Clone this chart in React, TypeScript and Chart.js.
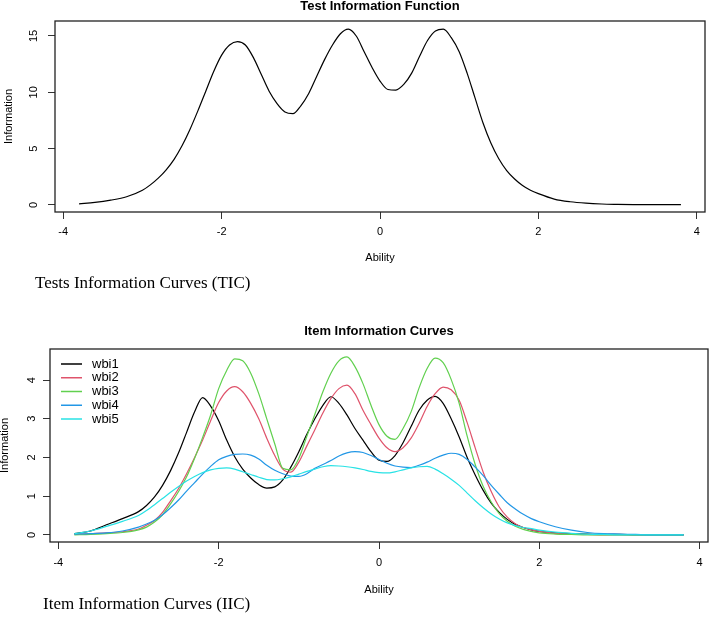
import React, { useEffect, useRef } from 'react';
import { Chart, registerables } from 'chart.js';

Chart.register(...registerables);

// ---------- data (ability grid and information values) ----------
const theta = [
  -3.8, -3.6, -3.4, -3.2,
  -3.0, -2.9, -2.8, -2.7, -2.6, -2.5, -2.4, -2.3, -2.2, -2.1,
  -2.0, -1.9, -1.8, -1.7, -1.6, -1.5, -1.4, -1.3, -1.2, -1.1,
  -1.0, -0.9, -0.8, -0.7, -0.6, -0.5, -0.4, -0.3, -0.2, -0.1,
  0.0, 0.1, 0.2, 0.3, 0.4, 0.5, 0.6, 0.7, 0.8, 0.9,
  1.0, 1.1, 1.2, 1.3, 1.4, 1.5, 1.6, 1.7, 1.8, 1.9,
  2.0,
  2.2, 2.4, 2.6, 2.8, 3.0, 3.2, 3.4, 3.6, 3.8,
];

const tifValues = [
  0.10, 0.22, 0.42, 0.72,
  1.30, 1.78, 2.38, 3.12, 4.05, 5.25, 6.70, 8.35, 10.1, 11.85,
  13.3, 14.2, 14.5, 14.2, 13.1, 11.6, 10.1, 9.0, 8.25, 8.1,
  8.8, 9.9, 11.4, 12.9, 14.2, 15.2, 15.6, 15.0, 13.6, 12.2,
  11.0, 10.25, 10.2, 10.7, 11.7, 13.2, 14.6, 15.45, 15.6, 14.85,
  13.6, 11.7, 9.5, 7.3, 5.5, 4.1, 3.05, 2.3, 1.72, 1.3,
  1.0,
  0.52, 0.28, 0.15, 0.08, 0.05, 0.03, 0.02, 0.02, 0.02,
];

const wbi1 = [
  0.03, 0.10, 0.26, 0.42,
  0.60, 0.76, 0.98, 1.28, 1.66, 2.12, 2.65, 3.18, 3.55, 3.33,
  2.95, 2.45, 2.02, 1.70, 1.47, 1.30, 1.21, 1.24, 1.42, 1.75,
  2.15, 2.60, 3.00, 3.35, 3.57, 3.40, 3.10, 2.75, 2.45, 2.15,
  1.93, 1.90, 2.05, 2.38, 2.80, 3.22, 3.48, 3.58, 3.40, 3.00,
  2.53, 2.00, 1.55, 1.15, 0.82, 0.58, 0.40, 0.27, 0.19, 0.13,
  0.09,
  0.05, 0.03, 0.02, 0.01, 0.01, 0.0, 0.0, 0.0, 0.0,
];
const wbi2 = [
  0.01, 0.03, 0.05, 0.08,
  0.15, 0.25, 0.37, 0.58, 0.88, 1.20, 1.58, 2.00, 2.45, 2.95,
  3.42, 3.72, 3.83, 3.70, 3.40, 3.00, 2.50, 2.05, 1.70, 1.62,
  1.88, 2.30, 2.72, 3.15, 3.52, 3.78, 3.87, 3.65, 3.22, 2.85,
  2.50, 2.25, 2.15, 2.25, 2.50, 2.88, 3.32, 3.65, 3.82, 3.75,
  3.48, 2.90, 2.25, 1.62, 1.12, 0.72, 0.46, 0.29, 0.19, 0.13,
  0.09,
  0.04, 0.02, 0.01, 0.0, 0.0, 0.0, 0.0, 0.0, 0.0,
];
const wbi3 = [
  0.0, 0.01, 0.03, 0.06,
  0.13, 0.20, 0.33, 0.52, 0.80, 1.12, 1.50, 1.98, 2.52, 3.10,
  3.78, 4.25, 4.55, 4.50, 4.18, 3.65, 3.00, 2.35, 1.72, 1.68,
  1.98, 2.55, 3.12, 3.70, 4.18, 4.50, 4.60, 4.35, 3.91, 3.35,
  2.85, 2.55, 2.47, 2.75, 3.18, 3.80, 4.30, 4.57, 4.45, 4.02,
  3.40, 2.55, 1.82, 1.25, 0.85, 0.55, 0.35, 0.22, 0.14, 0.09,
  0.05,
  0.02, 0.01, 0.0, 0.0, 0.0, 0.0, 0.0, 0.0, 0.0,
];
const wbi4 = [
  0.02, 0.03, 0.05, 0.10,
  0.20, 0.28, 0.38, 0.52, 0.70, 0.90, 1.13, 1.35, 1.57, 1.77,
  1.94, 2.03, 2.08, 2.09, 2.06, 1.96, 1.80, 1.67, 1.58, 1.52,
  1.51, 1.58, 1.72, 1.82, 1.92, 2.04, 2.12, 2.15, 2.13, 2.05,
  1.95, 1.85, 1.78, 1.75, 1.74, 1.80, 1.88, 1.98, 2.06, 2.11,
  2.08, 1.95, 1.75, 1.53, 1.28, 1.05, 0.83, 0.67, 0.53, 0.42,
  0.34,
  0.21, 0.12, 0.06, 0.03, 0.02, 0.01, 0.0, 0.0, 0.0,
];
const wbi5 = [
  0.03, 0.10, 0.22, 0.35,
  0.50, 0.63, 0.78, 0.94, 1.10, 1.25, 1.39, 1.51, 1.61, 1.68,
  1.72, 1.73, 1.70, 1.63, 1.56, 1.49, 1.43, 1.42, 1.45, 1.50,
  1.57, 1.64, 1.70, 1.76, 1.79, 1.78, 1.76, 1.73, 1.69, 1.64,
  1.61, 1.60, 1.63, 1.68, 1.73, 1.76, 1.77, 1.70, 1.58, 1.44,
  1.28, 1.08, 0.88, 0.70, 0.54, 0.41, 0.31, 0.24, 0.19, 0.16,
  0.12,
  0.07, 0.04, 0.02, 0.01, 0.0, 0.0, 0.0, 0.0, 0.0,
];

const itemNames = ['wbi1', 'wbi2', 'wbi3', 'wbi4', 'wbi5'];
const itemSeries = [wbi1, wbi2, wbi3, wbi4, wbi5];
const itemColors = ['#000000', '#DF536B', '#61D04F', '#2297E6', '#28E2E5'];

const xTickValues = [-4, -2, 0, 2, 4];
const tifYTicks = [0, 5, 10, 15];
const iicYTicks = [0, 1, 2, 3, 4];

const SANS = '"Liberation Sans", Arial, Helvetica, sans-serif';
const SERIF = '"Liberation Serif", "Times New Roman", Times, serif';

// ---------- plugin: R-style box, main title, legend ----------
const rDecor = {
  id: 'rDecor',
  afterDraw(chart: any, _args: any, opts: any) {
    const { ctx, chartArea: a } = chart;
    ctx.save();
    ctx.strokeStyle = '#222';
    ctx.lineWidth = 1.3;
    ctx.strokeRect(a.left, a.top, a.right - a.left, a.bottom - a.top);

    ctx.fillStyle = '#000';
    ctx.font = `bold 13px ${SANS}`;
    ctx.textAlign = 'center';
    ctx.textBaseline = 'alphabetic';
    ctx.fillText(opts.title, (a.left + a.right) / 2, opts.titleY);

    if (opts.legend) {
      ctx.font = `13px ${SANS}`;
      ctx.textAlign = 'left';
      ctx.textBaseline = 'middle';
      chart.data.datasets.forEach((ds: any, i: number) => {
        const y = a.top + opts.legendTop + i * opts.legendStep;
        ctx.strokeStyle = ds.borderColor;
        ctx.lineWidth = 1.5;
        ctx.beginPath();
        ctx.moveTo(a.left + 11, y);
        ctx.lineTo(a.left + 32, y);
        ctx.stroke();
        ctx.fillStyle = '#000';
        ctx.fillText(ds.label, a.left + 42, y);
      });
    }
    ctx.restore();
  },
};

function xScale(height: number, tickPad: number, titleBottom: number) {
  return {
    type: 'linear',
    min: -4.104,
    max: 4.104,
    afterBuildTicks: (s: any) => {
      s.ticks = xTickValues.map((v) => ({ value: v }));
    },
    afterFit: (s: any) => {
      s.height = height;
      s.paddingLeft = 0;
      s.paddingRight = 0;
    },
    grid: { display: true, drawOnChartArea: false, drawTicks: true, tickLength: 7, color: '#333', lineWidth: 1 },
    border: { display: false },
    ticks: {
      color: '#000',
      font: { family: SANS, size: 11 },
      padding: tickPad,
      minRotation: 0,
      maxRotation: 0,
      autoSkip: false,
      callback: (v: any) => String(v),
    },
    title: {
      display: true,
      text: 'Ability',
      color: '#000',
      font: { family: SANS, size: 11 },
      padding: { top: 0, bottom: titleBottom },
    },
  };
}

function yScale(min: number, max: number, ticks: number[], width: number, titleTop: number) {
  return {
    type: 'linear',
    min,
    max,
    afterBuildTicks: (s: any) => {
      s.ticks = ticks.map((v) => ({ value: v }));
    },
    afterFit: (s: any) => {
      s.width = width;
      s.paddingTop = 0;
      s.paddingBottom = 0;
    },
    grid: { display: true, drawOnChartArea: false, drawTicks: true, tickLength: 7, color: '#333', lineWidth: 1 },
    border: { display: false },
    ticks: {
      color: '#000',
      font: { family: SANS, size: 11 },
      padding: 8,
      minRotation: 90,
      maxRotation: 90,
      crossAlign: 'center',
      autoSkip: false,
      callback: (v: any) => String(v),
    },
    title: {
      display: true,
      text: 'Information',
      color: '#000',
      font: { family: SANS, size: 11 },
      padding: { top: titleTop, bottom: 0 },
    },
  };
}

function tifConfig(): any {
  return {
    type: 'line',
    data: {
      datasets: [
        {
          label: 'Test Information',
          data: theta.map((t, i) => ({ x: t, y: tifValues[i] })),
          borderColor: '#000000',
          borderWidth: 1.2,
          pointRadius: 0,
          cubicInterpolationMode: 'monotone',
          fill: false,
        },
      ],
    },
    options: {
      animation: false,
      responsive: false,
      maintainAspectRatio: false,
      layout: { padding: { left: 0, top: 21, right: 4, bottom: 0 } },
      plugins: {
        legend: { display: false },
        tooltip: { enabled: false },
        rDecor: { title: 'Test Information Function', titleY: 10, legend: false },
      },
      scales: {
        x: xScale(88, 6, 35),
        y: yScale(-0.63, 16.33, tifYTicks, 55, 2.4),
      },
    },
    plugins: [rDecor],
  };
}

function iicConfig(): any {
  return {
    type: 'line',
    data: {
      datasets: itemSeries.map((series, k) => ({
        label: itemNames[k],
        data: theta.map((t, i) => ({ x: t, y: series[i] })),
        borderColor: itemColors[k],
        borderWidth: 1.2,
        pointRadius: 0,
        cubicInterpolationMode: 'monotone',
        fill: false,
        order: itemSeries.length - k,
      })),
    },
    options: {
      animation: false,
      responsive: false,
      maintainAspectRatio: false,
      layout: { padding: { left: 0, top: 49, right: 1, bottom: 0 } },
      plugins: {
        legend: { display: false },
        tooltip: { enabled: false },
        rDecor: {
          title: 'Item Information Curves',
          titleY: 35,
          legend: true,
          legendTop: 15,
          legendStep: 13.75,
        },
      },
      scales: {
        x: xScale(75, 7, 20),
        y: yScale(-0.185, 4.805, iicYTicks, 50, -1.6),
      },
    },
    plugins: [rDecor],
  };
}

function ChartCanvas({ makeConfig, top, width, height }: any) {
  const ref = useRef<HTMLCanvasElement>(null);
  useEffect(() => {
    if (!ref.current) return;
    const chart = new Chart(ref.current, makeConfig());
    return () => chart.destroy();
  }, []);
  return (
    <canvas
      ref={ref}
      width={width}
      height={height}
      style={{ position: 'absolute', left: 0, top, width, height, display: 'block' }}
    />
  );
}

const captionStyle: React.CSSProperties = {
  position: 'absolute',
  fontFamily: SERIF,
  fontSize: 17,
  lineHeight: '20px',
  color: '#000',
  whiteSpace: 'nowrap',
};

export default function App() {
  return (
    <div
      style={{
        position: 'absolute',
        left: 0,
        top: 0,
        width: 709,
        height: 617,
        background: '#ffffff',
        overflow: 'hidden',
      }}
    >
      <ChartCanvas makeConfig={tifConfig} top={0} width={709} height={300} />
      <ChartCanvas makeConfig={iicConfig} top={300} width={709} height={317} />
      <div style={{ ...captionStyle, left: 35, top: 273 }}>Tests Information Curves (TIC)</div>
      <div style={{ ...captionStyle, left: 43, top: 594 }}>Item Information Curves (IIC)</div>
    </div>
  );
}
